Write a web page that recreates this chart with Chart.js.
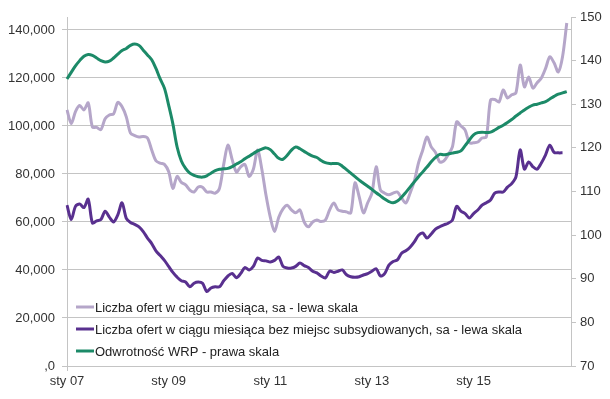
<!DOCTYPE html>
<html>
<head>
<meta charset="utf-8">
<script src="https://cdn.jsdelivr.net/npm/chart.js@4.4.1/dist/chart.umd.min.js"></script>
<style>
  html, body { margin: 0; padding: 0; background: #fff; }
  #wrap { width: 610px; height: 399px; }
</style>
</head>
<body>
<div id="wrap"><canvas id="oferty" width="610" height="399"></canvas></div>
<script>
// wartosci (miesiecznie, sty 07 - gru 16)
const ofertySa = [
  106700, 101000, 106000, 108500, 106700, 109600, 99600, 99400, 98500, 103000,
  104600, 105000, 109800, 108000, 103800, 97000, 96000, 95400, 95600, 95000,
  90000, 85500, 84500, 84000, 81000, 74000, 79000, 76500, 75500, 73300,
  72500, 74600, 74500, 72500, 72500, 72000, 74000, 84000, 92000, 86000,
  80800, 83000, 84000, 79000, 82000, 90000, 82000, 71000, 62000, 56000,
  62000, 65500, 67000, 65000, 63800, 65000, 60000, 58000, 60000, 60800,
  60200, 60800, 65000, 67900, 65000, 64500, 64200, 63800, 76300, 70400,
  63800, 68000, 72000, 83000, 73300, 72000, 71300, 72000, 72500, 70000,
  67900, 72000, 77000, 84600, 90000, 95400, 91300, 89000, 85000, 85500,
  88000, 91300, 101700, 100000, 98300, 93000, 93000, 93300, 95000, 95400,
  110800, 111000, 110000, 115000, 111700, 113000, 113800, 125400, 116300, 120400,
  115800, 118000, 120000, 124000, 128800, 126300, 122500, 128800, 142900, null
];

const ofertyBezSubs = [
  67000, 61000, 66500, 67500, 66000, 69500, 59600, 60500, 61000, 64500,
  62000, 60000, 63000, 68000, 61500, 59800, 59000, 58000, 56000, 53300,
  51000, 48000, 46000, 44000, 41500, 39000, 37000, 35500, 35000, 33000,
  34500, 35000, 34500, 31000, 32500, 33000, 33000, 35500, 37500, 38500,
  36800, 38500, 41000, 40000, 41500, 45000, 44000, 43800, 43300, 44000,
  45400, 41500, 40800, 40800, 41500, 42900, 41800, 41000, 39500, 38800,
  37500, 36700, 39500, 39000, 39500, 40000, 38000, 37200, 37000, 37200,
  37900, 38500, 39500, 40500, 37500, 38500, 42000, 43500, 44200, 47000,
  48000, 49500, 51700, 54500, 55400, 53300, 55000, 57000, 58000, 58800,
  59500, 60800, 66500, 64500, 63500, 61700, 63500, 65000, 67000, 68000,
  69200, 72000, 72500, 72500, 74500, 76000, 78800, 90000, 82000, 85000,
  83000, 82000, 84600, 88000, 92000, 89000, 88800, 88800, null, null
];

const odwrotnoscWrp = [
  135.8, 137.3, 138.8, 140, 141, 141.4, 141.2, 140.6, 140, 139.7,
  139.9, 140.6, 141.5, 142.3, 142.8, 143.5, 143.8, 143.5, 142.4, 141.3,
  140.2, 138.2, 135.8, 133.7, 129.8, 125.5, 120.2, 117, 115.3, 114.2,
  113.7, 113.4, 113.3, 113.6, 114.2, 114.8, 115.1, 115.2, 115.3, 115.7,
  116.3, 116.8, 117.5, 118.1, 118.7, 119.3, 119.7, 120, 119.6, 118.6,
  117.6, 117.4, 118.3, 119.5, 120.2, 119.8, 119.2, 118.6, 118.1, 117.8,
  117.1, 116.6, 116.4, 116.4, 116.4, 115.8, 115, 114.2, 113.4, 112.6,
  111.9, 111.2, 110.5, 109.7, 109, 108.3, 107.7, 107.4, 107.8, 108.7,
  109.8, 111, 112.2, 113.4, 114.5, 115.6, 116.8, 117.8, 118.5, 118.4,
  118.6, 118.8, 119, 119.3, 120.5, 121.8, 123, 123.5, 123.6, 123.5,
  123.6, 124.1, 124.7, 125.2, 125.8, 126.5, 127.3, 128, 128.7, 129.3,
  129.8, 130, 130.3, 130.6, 131.2, 131.8, 132.3, 132.6, 132.9, null
];

const xTickLabels = ['sty 07', 'sty 09', 'sty 11', 'sty 13', 'sty 15'];
const leftTickValues = [0, 20000, 40000, 60000, 80000, 100000, 120000, 140000];
const leftTickLabels = [',0', '20,000', '40,000', '60,000', '80,000', '100,000', '120,000', '140,000'];
const rightTickValues = [70, 80, 90, 100, 110, 120, 130, 140, 150];
const rightTickLabels = ['70', '80', '90', '100', '110', '120', '130', '140', '150'];

const seriesNames = [
  'Liczba ofert w ciągu miesiąca, sa - lewa skala',
  'Liczba ofert w ciągu miesiąca bez miejsc subsydiowanych, sa - lewa skala',
  'Odwrotność WRP - prawa skala'
];

// kategorie miesieczne
const miesiace = [];
for (let r = 2007; r <= 2016; r++) {
  for (let m = 1; m <= 12; m++) {
    miesiace.push(r + '-' + (m < 10 ? '0' + m : m));
  }
}

const szary = '#c4c4c4';
const tekst = '#333333';
const font = { family: 'Liberation Sans, Arial, sans-serif', size: 13 };

// legenda rysowana wewnatrz wykresu (lewy dol)
const legendaWewn = {
  id: 'legendaWewn',
  afterDatasetsDraw(chart) {
    const ctx = chart.ctx;
    ctx.save();
    ctx.font = '13px Liberation Sans, Arial, sans-serif';
    ctx.textBaseline = 'middle';
    chart.data.datasets.forEach((ds, i) => {
      const y = 307 + i * 22;
      ctx.strokeStyle = ds.borderColor;
      ctx.lineWidth = 3;
      ctx.beginPath();
      ctx.moveTo(76, y);
      ctx.lineTo(94, y);
      ctx.stroke();
      ctx.fillStyle = '#222';
      ctx.fillText(ds.label, 95, y + 1);
    });
    ctx.restore();
  }
};

const canvas = document.getElementById('oferty');
new Chart(canvas, {
  type: 'line',
  data: {
    labels: miesiace,
    datasets: [
      {
        label: seriesNames[0],
        data: ofertySa,
        yAxisID: 'y',
        borderColor: '#b5a6c9',
        borderWidth: 3,
        pointRadius: 0,
        tension: 0.3,
        order: 2
      },
      {
        label: seriesNames[1],
        data: ofertyBezSubs,
        yAxisID: 'y',
        borderColor: '#59308f',
        borderWidth: 3,
        pointRadius: 0,
        tension: 0.3,
        order: 1
      },
      {
        label: seriesNames[2],
        data: odwrotnoscWrp,
        yAxisID: 'y1',
        borderColor: '#1c8a68',
        borderWidth: 3,
        pointRadius: 0,
        tension: 0.35,
        order: 0
      }
    ]
  },
  options: {
    responsive: false,
    animation: false,
    layout: { padding: { top: 17, left: 0, right: 0, bottom: 0 } },
    plugins: {
      legend: { display: false },
      tooltip: { enabled: false }
    },
    scales: {
      x: {
        type: 'category',
        offset: false,
        grid: {
          color: c => (c.index % 24 === 0 ? szary : 'rgba(0,0,0,0)'),
          tickLength: 5
        },
        border: { color: szary },
        ticks: {
          autoSkip: false,
          maxRotation: 0,
          padding: 3,
          color: tekst,
          font: font,
          callback: (v, i) => (i % 24 === 0 ? xTickLabels[i / 24] : null)
        },
        afterFit: s => { s.height = 33; }
      },
      y: {
        position: 'left',
        min: 0,
        max: 145400,
        grid: { color: szary, tickLength: 5 },
        border: { color: szary },
        afterBuildTicks: s => { s.ticks = leftTickValues.map(v => ({ value: v })); },
        ticks: {
          autoSkip: false,
          padding: 7,
          color: tekst,
          font: font,
          callback: (v, i) => leftTickLabels[i]
        },
        afterFit: s => { s.width = 67; }
      },
      y1: {
        position: 'right',
        min: 70,
        max: 150,
        grid: { drawOnChartArea: false, color: szary, tickLength: 5 },
        border: { color: szary },
        afterBuildTicks: s => { s.ticks = rightTickValues.map(v => ({ value: v })); },
        ticks: {
          autoSkip: false,
          padding: 4,
          color: tekst,
          font: font,
          callback: (v, i) => rightTickLabels[i]
        },
        afterFit: s => { s.width = 39; }
      }
    }
  },
  plugins: [legendaWewn]
});
</script>
</body>
</html>
